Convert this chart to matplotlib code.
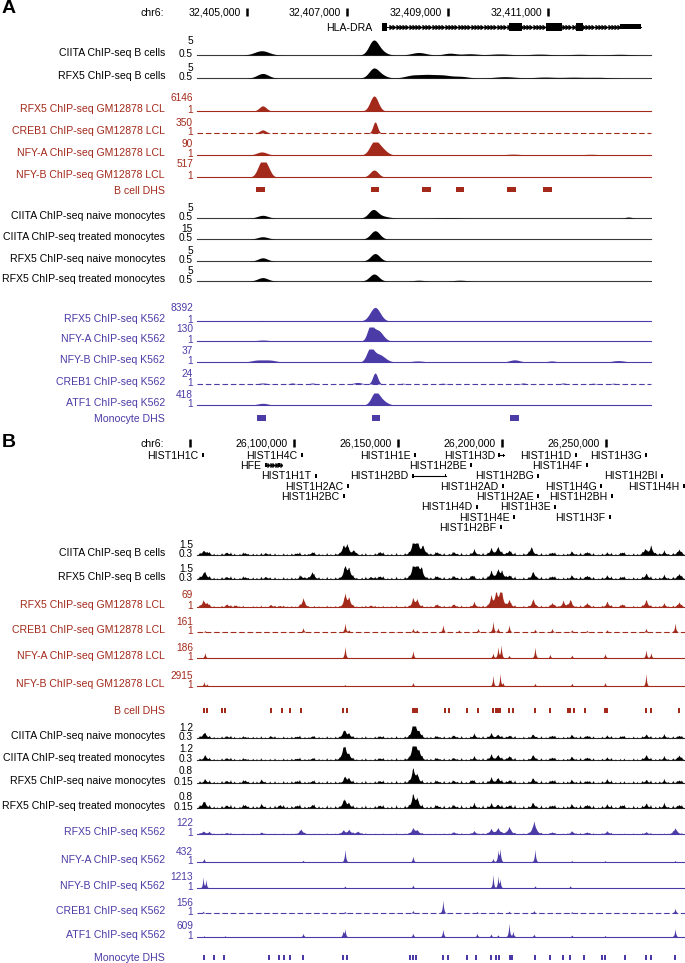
import numpy as np
import matplotlib
matplotlib.use("Agg")
import matplotlib.pyplot as plt
from matplotlib.patches import Rectangle

plt.rcParams['font.family'] = ['Liberation Sans', 'DejaVu Sans']

# ====================== DATA ======================
TRACK_NAMES = ['CIITA ChIP-seq B cells', 'RFX5 ChIP-seq B cells',
               'RFX5 ChIP-seq GM12878 LCL', 'CREB1 ChIP-seq GM12878 LCL',
               'NFY-A ChIP-seq GM12878 LCL', 'NFY-B ChIP-seq GM12878 LCL',
               'CIITA ChIP-seq naive monocytes', 'CIITA ChIP-seq treated monocytes',
               'RFX5 ChIP-seq naive monocytes', 'RFX5 ChIP-seq treated monocytes',
               'RFX5 ChIP-seq K562', 'NFY-A ChIP-seq K562', 'NFY-B ChIP-seq K562',
               'CREB1 ChIP-seq K562', 'ATF1 ChIP-seq K562']
TRACK_GROUP = ['k', 'k', 'r', 'r', 'r', 'r', 'k', 'k', 'k', 'k', 'b', 'b', 'b', 'b', 'b']
DASHED = [False, False, False, True, False, False, False, False, False, False,
          False, False, False, True, False]
DHS_NAMES = ['B cell DHS', 'Monocyte DHS']
DHS_GROUP = ['r', 'b']

# ---- Panel A (kb on chr6) ----
A_CHROM = 'chr6:'
A_XLIM = (32404.0, 32413.05)
A_TICKS = [32405, 32407, 32409, 32411]
A_TICK_LABELS = ['32,405,000', '32,407,000', '32,409,000', '32,411,000']
A_GENE = 'HLA-DRA'
A_EXON_START = [32407.69, 32410.22, 32410.96, 32411.55, 32412.43]
A_EXON_END = [32407.79, 32410.48, 32411.27, 32411.69, 32412.85]
A_MAX = [5, 5, 6146, 350, 90, 517, 5, 15, 5, 5, 8392, 130, 37, 24, 418]
A_MIN = [0.5, 0.5, 1, 1, 1, 1, 0.5, 0.5, 0.5, 0.5, 1, 1, 1, 1, 1]
A_MAX_LABEL = ['5', '5', '6146', '350', '90', '517', '5', '15', '5', '5',
               '8392', '130', '37', '24', '418']
A_MIN_LABEL = ['0.5', '0.5', '1', '1', '1', '1', '0.5', '0.5', '0.5', '0.5',
               '1', '1', '1', '1', '1']
A_POS = [
    [32405.29, 32407.51, 32407.61, 32408.42, 32409.04, 32409.44, 32410.04, 32410.83, 32411.63, 32412.43],
    [32405.31, 32407.51, 32407.62, 32408.30, 32408.60, 32408.90, 32409.25, 32410.14, 32410.93, 32411.50, 32412.00],
    [32405.31, 32407.53],
    [32405.31, 32407.55],
    [32405.29, 32407.53, 32407.68, 32404.30, 32409.60, 32410.30, 32411.85, 32412.50],
    [32405.29, 32405.40, 32407.53, 32410.30],
    [32405.31, 32407.51, 32407.70, 32412.60, 32409.00],
    [32405.31, 32407.55],
    [32405.31, 32407.55],
    [32405.31, 32407.53, 32408.42, 32409.24],
    [32405.31, 32407.55],
    [32405.31, 32407.45, 32407.60, 32409.52, 32410.30, 32410.93, 32411.80],
    [32405.20, 32405.45, 32407.45, 32407.62, 32408.40, 32410.33, 32411.07, 32412.40],
    [32405.31, 32407.20, 32407.55, 32405.90, 32406.30, 32408.10, 32408.90, 32410.50, 32411.30, 32411.90, 32412.30],
    [32405.31, 32407.55, 32407.68],
]
A_VAL = [
    [1.7, 3.6, 2.0, 1.2, 1.0, 0.85, 0.8, 0.75, 0.7, 0.7],
    [2.2, 3.2, 2.0, 1.5, 1.6, 1.5, 1.1, 1.0, 0.85, 0.8, 0.75],
    [2100, 6146],
    [100, 350],
    [22, 85, 40, 4, 4, 7, 6, 3],
    [500, 250, 240, 10],
    [1.6, 3.8, 1.2, 0.9, 0.65],
    [3.8, 12.5],
    [1.7, 3.3],
    [2.2, 4.0, 0.9, 0.9],
    [300, 7600],
    [10, 112, 100, 5, 5, 5, 3],
    [6, 6, 33, 22, 4, 7, 4, 5],
    [3, 4, 22, 3, 3, 2.5, 2.5, 3, 3, 2.5, 2.5],
    [60, 390, 150],
]
A_WID = [
    [0.14, 0.09, 0.12, 0.14, 0.12, 0.15, 0.2, 0.2, 0.2, 0.2],
    [0.11, 0.09, 0.12, 0.15, 0.15, 0.15, 0.15, 0.2, 0.2, 0.2, 0.2],
    [0.07, 0.08],
    [0.06, 0.045],
    [0.1, 0.09, 0.1, 0.1, 0.15, 0.15, 0.15, 0.1],
    [0.08, 0.07, 0.08, 0.05],
    [0.1, 0.09, 0.12, 0.06, 0.2],
    [0.1, 0.09],
    [0.09, 0.09],
    [0.1, 0.09, 0.1, 0.12],
    [0.1, 0.1],
    [0.12, 0.06, 0.1, 0.1, 0.1, 0.12, 0.1],
    [0.12, 0.12, 0.07, 0.12, 0.12, 0.1, 0.08, 0.12],
    [0.08, 0.08, 0.05, 0.05, 0.05, 0.05, 0.05, 0.05, 0.05, 0.05, 0.05],
    [0.1, 0.08, 0.1],
]
A_DHS_BCELL = [32405.27, 32407.55, 32408.58, 32409.24, 32410.27, 32410.99]
A_DHS_MONO = [32405.29, 32407.57, 32410.33]
A_DHS_WIDTH_KB = 0.17

# ---- Panel B (kb on chr6) ----
B_CHROM = 'chr6:'
B_XLIM = (26053.4, 26288.2)
B_TICKS = [26050, 26100, 26150, 26200, 26250]
B_TICK_LABELS = ['', '26,100,000', '26,150,000', '26,200,000', '26,250,000']
B_GENES = ['HIST1H1C', 'HIST1H4C', 'HIST1H1E', 'HIST1H3D', 'HIST1H1D', 'HIST1H3G',
           'HFE', 'HIST1H2BE', 'HIST1H4F',
           'HIST1H1T', 'HIST1H2BD', 'HIST1H2BG', 'HIST1H2BI',
           'HIST1H2AC', 'HIST1H2AD', 'HIST1H4G', 'HIST1H4H',
           'HIST1H2BC', 'HIST1H2AE', 'HIST1H2BH',
           'HIST1H4D', 'HIST1H3E',
           'HIST1H4E', 'HIST1H3F',
           'HIST1H2BF']
B_GENE_START = [26055.8, 26103.4, 26157.8, 26198.4, 26235.3, 26268.9,
                26086.1, 26184.7, 26240.6,
                26110.2, 26156.8, 26217.0, 26276.6,
                26125.5, 26200.1, 26247.3, 26287.2,
                26123.6, 26217.0, 26252.6,
                26187.6, 26225.2,
                26205.4, 26251.6,
                26199.2]
B_GENE_END = [26056.7, 26104.4, 26158.8, 26201.0, 26236.2, 26269.9,
              26093.3, 26185.7, 26241.5,
              26111.1, 26173.2, 26217.9, 26277.6,
              26126.5, 26201.1, 26248.3, 26288.2,
              26124.6, 26217.9, 26253.5,
              26188.6, 26226.1,
              26206.4, 26252.6,
              26200.1]
B_GENE_ROW = [0, 0, 0, 0, 0, 0, 1, 1, 1, 2, 2, 2, 2, 3, 3, 3, 3, 4, 4, 4, 5, 5, 6, 6, 7]
B_MAX = [1.5, 1.5, 69, 161, 186, 2915, 1.2, 1.2, 0.8, 0.8, 122, 432, 1213, 156, 609]
B_MIN = [0.3, 0.3, 1, 1, 1, 1, 0.3, 0.3, 0.15, 0.15, 1, 1, 1, 1, 1]
B_MAX_LABEL = ['1.5', '1.5', '69', '161', '186', '2915', '1.2', '1.2', '0.8', '0.8',
               '122', '432', '1213', '156', '609']
B_MIN_LABEL = ['0.3', '0.3', '1', '1', '1', '1', '0.3', '0.3', '0.15', '0.15',
               '1', '1', '1', '1', '1']
B_POS = [
    [26056.3, 26058.2, 26067.8, 26076.5, 26086.6, 26101.5, 26108.7, 26123.6, 26125.5, 26128.9, 26141.4, 26157.3, 26159.2, 26162.1, 26168.9, 26177.0, 26186.7, 26194.8, 26198.2, 26203.5, 26214.1, 26224.2, 26233.8, 26241.0, 26250.7, 26257.9, 26268.9, 26271.8, 26278.1, 26285.3],
    [26056.3, 26057.2, 26067.8, 26076.5, 26086.6, 26103.4, 26108.7, 26124.6, 26126.5, 26137.1, 26141.4, 26157.3, 26159.2, 26161.2, 26168.9, 26177.0, 26185.7, 26194.8, 26198.2, 26200.1, 26203.5, 26215.1, 26224.2, 26233.8, 26241.0, 26250.7, 26257.9, 26269.4, 26278.1, 26285.3],
    [26056.3, 26058.2, 26067.8, 26072.1, 26089.0, 26093.3, 26104.4, 26124.6, 26126.5, 26137.1, 26157.3, 26159.2, 26168.9, 26177.0, 26186.7, 26194.8, 26197.2, 26199.2, 26200.1, 26203.5, 26215.1, 26224.2, 26229.5, 26232.9, 26241.0, 26250.7, 26257.9, 26269.4, 26278.1, 26285.3],
    [26057.2, 26104.4, 26124.6, 26126.5, 26157.3, 26159.2, 26171.7, 26179.4, 26188.6, 26195.8, 26198.2, 26203.5, 26216.0, 26224.2, 26233.8, 26241.0, 26250.7, 26269.4, 26283.4],
    [26057.2, 26124.6, 26157.3, 26195.8, 26198.2, 26199.7, 26203.5, 26216.0, 26223.2, 26233.8, 26249.7, 26269.4, 26271.8],
    [26056.7, 26058.2, 26124.6, 26157.3, 26195.8, 26199.2, 26200.6, 26216.0, 26233.8, 26249.7, 26269.4],
    [26056.3, 26057.2, 26067.8, 26076.5, 26089.0, 26101.5, 26108.7, 26123.6, 26124.6, 26126.5, 26141.4, 26157.3, 26158.3, 26160.2, 26168.9, 26177.0, 26186.7, 26194.8, 26198.2, 26203.5, 26215.1, 26224.2, 26233.8, 26241.0, 26250.7, 26257.9, 26269.4, 26278.1, 26285.3],
    [26057.2, 26067.8, 26076.5, 26101.5, 26108.7, 26123.6, 26124.6, 26126.5, 26141.4, 26157.3, 26158.3, 26160.2, 26168.9, 26177.0, 26186.7, 26194.8, 26198.2, 26203.5, 26215.1, 26224.2, 26233.8, 26241.0, 26250.7, 26269.4, 26278.1, 26285.3],
    [26057.2, 26067.8, 26076.5, 26084.6, 26101.5, 26108.7, 26124.6, 26126.5, 26141.4, 26157.3, 26159.2, 26168.9, 26177.0, 26185.7, 26194.8, 26198.2, 26203.5, 26215.1, 26224.2, 26233.8, 26241.0, 26250.7, 26269.4, 26278.1, 26285.3],
    [26056.3, 26057.2, 26067.8, 26076.5, 26084.6, 26093.3, 26101.5, 26108.7, 26123.6, 26124.6, 26126.5, 26141.4, 26157.3, 26159.2, 26168.9, 26177.0, 26186.7, 26194.8, 26198.2, 26203.5, 26215.1, 26224.2, 26233.8, 26241.0, 26250.7, 26257.9, 26269.4, 26278.1, 26285.3],
    [26056.3, 26059.1, 26067.8, 26084.6, 26103.4, 26123.6, 26126.5, 26130.8, 26157.3, 26159.2, 26177.0, 26186.7, 26194.8, 26198.2, 26203.5, 26215.5, 26224.2, 26233.8, 26241.0, 26250.7, 26269.4, 26283.4],
    [26056.7, 26104.4, 26124.6, 26157.3, 26195.8, 26198.2, 26199.2, 26216.0, 26233.8, 26249.7, 26283.4],
    [26056.3, 26057.7, 26124.6, 26157.3, 26195.8, 26198.2, 26199.2, 26216.0, 26232.9],
    [26056.3, 26124.6, 26157.3, 26171.7, 26188.1, 26198.2, 26203.5, 26215.5, 26233.8, 26283.4],
    [26056.7, 26066.8, 26104.4, 26123.6, 26124.6, 26157.3, 26171.7, 26188.1, 26194.8, 26198.2, 26203.5, 26205.4, 26215.5, 26233.8, 26249.7, 26283.4],
]
B_VAL = [
    [0.70, 0.57, 0.57, 0.53, 0.50, 0.50, 0.60, 1.03, 1.30, 0.70, 0.63, 1.55, 1.70, 1.13, 0.60, 0.60, 0.77, 0.90, 1.13, 0.77, 1.10, 0.57, 0.60, 0.63, 0.50, 0.57, 0.90, 1.10, 0.63, 0.90],
    [0.63, 0.80, 0.50, 0.50, 0.50, 0.57, 0.97, 1.47, 1.13, 0.50, 0.57, 1.47, 1.70, 1.13, 0.57, 0.57, 0.63, 0.97, 1.13, 0.80, 0.63, 0.97, 0.57, 0.57, 0.63, 0.57, 0.50, 0.80, 0.57, 0.80],
    [31.6, 18, 14.6, 9.5, 11, 7.8, 43.5, 60.5, 38, 9.5, 38, 35, 14.6, 14.6, 21, 48.6, 69, 60, 38, 35, 38, 21, 26.5, 35, 21, 24.8, 14.6, 35, 14.6, 24.8],
    [19, 56, 115, 28, 47, 28, 92, 28, 47, 138, 56, 92, 38, 47, 28, 24, 28, 47, 115],
    [80, 170, 107, 75, 160, 186, 43, 160, 54, 43, 65, 118, 75],
    [1000, 500, 333, 830, 2500, 2915, 800, 665, 665, 830, 2900],
    [0.50, 0.61, 0.45, 0.40, 0.43, 0.43, 0.45, 0.61, 0.71, 0.56, 0.45, 1.28, 1.02, 0.69, 0.45, 0.50, 0.56, 0.61, 0.56, 0.50, 0.56, 0.50, 0.50, 0.50, 0.45, 0.45, 0.56, 0.50, 0.50],
    [0.62, 0.43, 0.39, 0.41, 0.43, 0.86, 0.93, 0.57, 0.43, 1.20, 1.30, 0.75, 0.43, 0.43, 0.48, 0.62, 0.64, 0.57, 0.62, 0.48, 0.48, 0.48, 0.43, 0.62, 0.48, 0.62],
    [0.31, 0.25, 0.28, 0.25, 0.25, 0.25, 0.41, 0.31, 0.25, 0.77, 0.48, 0.25, 0.25, 0.28, 0.35, 0.38, 0.28, 0.35, 0.28, 0.25, 0.25, 0.28, 0.28, 0.25, 0.28],
    [0.38, 0.31, 0.28, 0.31, 0.28, 0.31, 0.28, 0.31, 0.35, 0.41, 0.31, 0.28, 0.77, 0.56, 0.28, 0.28, 0.31, 0.31, 0.31, 0.28, 0.38, 0.28, 0.28, 0.31, 0.28, 0.28, 0.35, 0.31, 0.31],
    [25, 16, 13, 13, 43, 31, 37, 25, 49, 31, 19, 25, 43, 55, 67, 115, 19, 25, 19, 25, 19, 55],
    [124, 62, 432, 198, 124, 370, 432, 432, 50, 50, 50],
    [970, 760, 175, 278, 1213, 1040, 760, 210, 210],
    [24, 20, 32, 156, 20, 16, 24, 32, 16, 60],
    [50, 50, 170, 237, 340, 170, 340, 170, 136, 100, 609, 255, 136, 85, 68, 372],
]
B_PEAK_WIDTH_KB = [1.1, 1.1, 0.9, 0.4, 0.4, 0.35, 1.0, 1.0, 1.0, 1.0, 1.1, 0.4, 0.35, 0.4, 0.4]
# small background spikes (kb), their relative heights, and the level per track
B_BG_POS = [26054.6, 26056.9, 26059.3, 26061.4, 26063.0, 26065.2, 26067.1, 26069.5, 26071.3,
            26073.8, 26075.4, 26077.9, 26080.2, 26082.0, 26084.1, 26086.0, 26088.4, 26090.7,
            26092.5, 26094.9, 26096.6, 26098.8, 26100.5, 26102.7, 26105.1, 26106.8, 26109.6,
            26111.9, 26113.7, 26115.8, 26117.6, 26119.9, 26121.8, 26124.0, 26126.2, 26128.3,
            26130.1, 26132.6, 26134.4, 26136.5, 26138.9, 26140.6, 26142.8, 26145.0, 26146.9,
            26149.2, 26151.0, 26153.3, 26155.2, 26157.0, 26159.8, 26161.6, 26163.9, 26165.7,
            26168.0, 26170.2, 26172.1, 26174.5, 26176.3, 26178.6, 26180.5, 26182.7, 26184.9,
            26186.6, 26189.0, 26190.8, 26193.1, 26195.0, 26197.6, 26199.9, 26202.0, 26204.3,
            26206.2, 26208.5, 26210.4, 26212.8, 26214.6, 26216.7, 26218.9, 26221.1, 26223.0,
            26225.4, 26227.2, 26229.6, 26231.5, 26233.4, 26235.8, 26237.7, 26239.9, 26242.2,
            26244.0, 26246.4, 26248.2, 26250.5, 26252.6, 26254.7, 26256.9, 26258.8, 26261.0,
            26263.3, 26265.1, 26267.5, 26269.7, 26271.6, 26273.9, 26275.8, 26278.0, 26280.1,
            26282.3, 26284.2, 26286.5]
B_BG_REL = [1.0, 0.6, 1.3, 0.8, 0.5, 1.1, 0.7, 1.4, 0.9, 0.6, 1.2, 0.5, 1.0, 0.8, 1.3, 0.6,
            0.9, 1.1, 0.5, 1.2, 0.7, 1.0, 0.6, 1.4, 0.8, 0.5, 1.1, 0.9, 0.6, 1.3, 0.7, 1.0,
            0.5, 1.2, 0.8, 1.1, 0.6, 0.9, 1.3, 0.5, 1.0, 0.7, 1.2, 0.6, 0.9, 1.4, 0.5, 1.1,
            0.8, 1.0, 0.6, 1.3, 0.7, 0.9, 1.1, 0.5, 1.2, 0.8, 1.0, 0.6, 1.4, 0.7, 0.9, 1.1,
            0.5, 1.3, 0.8, 1.0, 0.6, 1.2, 0.7, 0.9, 1.4, 0.5, 1.1, 0.8, 1.0, 0.6, 1.3, 0.7,
            0.9, 1.2, 0.5, 1.0, 0.8, 1.1, 0.6, 1.4, 0.7, 0.9, 1.2, 0.5, 1.0, 0.8, 1.3, 0.6,
            0.9, 1.1, 0.5, 1.2, 0.7, 1.0, 0.6, 1.3, 0.8, 0.9, 1.1, 0.5, 1.2, 0.7, 1.0]
B_BG_VAL = [0.50, 0.50, 8, 5, 6, 50, 0.44, 0.42, 0.25, 0.27, 9, 10, 25, 5, 18]
B_DHS_BCELL = [26056.7, 26058.2, 26065.4, 26066.8, 26089.0, 26094.3, 26098.1, 26103.4, 26123.6,
               26125.5, 26157.3, 26158.3, 26159.2, 26172.7, 26174.6, 26183.3, 26188.6, 26195.8,
               26197.2, 26198.2, 26199.2, 26203.5, 26205.4, 26216.0, 26223.2, 26231.9, 26232.9,
               26234.8, 26240.1, 26249.7, 26250.7, 26269.4, 26271.8, 26285.3]
B_DHS_MONO = [26056.7, 26061.5, 26066.4, 26088.0, 26092.8, 26095.2, 26098.1, 26104.4, 26123.6,
              26125.5, 26155.9, 26157.3, 26158.8, 26171.7, 26174.1, 26183.3, 26187.6, 26194.8,
              26197.2, 26198.7, 26204.0, 26205.0, 26216.0, 26223.2, 26229.5, 26232.9, 26239.6,
              26248.3, 26249.7, 26259.3, 26269.4, 26271.8, 26283.4]
B_DHS_WIDTH_KB = 0.7

# ====================== LAYOUT / STYLE ======================
W, H = 685, 963
FS = 7.6
FS_SCALE = 7.3
COLORS = {'k': '#000000', 'r': '#a3291b', 'b': '#4b3ba6'}
BASELINE_COLORS = {'k': '#3a3a3a', 'r': '#a3291b', 'b': '#4b3ba6'}
NAME_RIGHT = 165
SCALE_RIGHT = 193
X0 = 197
A_X1 = 651
B_X1 = 685
A_BASE = [55, 78, 111, 133, 155, 177, 218, 239, 261, 281, 321, 341, 362, 384, 405]
A_MAXLAB = [40, 67, 97, 123, 143, 163, 208, 230, 250, 273, 307, 328, 350, 373, 394]
A_DHS_Y = [190, 418]
B_BASE = [555, 579, 607, 632, 658, 686, 738, 760, 783, 808, 834, 862, 888, 913, 937]
B_MAXLAB = [545, 568, 594, 621, 647, 675, 728, 748, 770, 796, 822, 851, 876, 902, 925]
B_DHS_Y = [710, 957]
B_HEADER_Y = 443
B_ROW0 = 455
B_ROW_STEP = 10.3
MIN_SEP = 9.0
CAP = 3.8  # half cap height (px) for baseline alignment

fig = plt.figure(figsize=(W / 100, H / 100), dpi=100)


def rect(x0, y0, x1, y1):
    return [x0 / W, 1 - y1 / H, (x1 - x0) / W, (y1 - y0) / H]


def ftext(x, y, s, **kw):
    kw.setdefault('fontsize', FS)
    fig.text(x / W, 1 - (y + CAP) / H, s, va='baseline', **kw)


def gauss_signal(xg, pos, val, wid, lo):
    y = np.zeros_like(xg)
    for p, v, w in zip(pos, val, wid):
        y += (v - lo) * np.exp(-0.5 * ((xg - p) / w) ** 2)
    return lo + y


def spike_signal(xg, pos, val, w, lo):
    y = np.zeros_like(xg)
    for p, v in zip(pos, val):
        y += (v - lo) * np.exp(-np.abs(xg - p) / w)
    return lo + y


def draw_track(x1, xlim, base, top, lo, hi, xg, yv, grp, dashed):
    ax = fig.add_axes(rect(X0, top, x1, base))
    ax.set_xlim(*xlim)
    ax.set_ylim(lo, hi)
    ax.axis('off')
    ax.fill_between(xg, lo, np.clip(yv, lo, hi), color=COLORS[grp], lw=0, zorder=2)
    ax.plot(xlim, [lo, lo], color=BASELINE_COLORS[grp], lw=0.8,
            ls=(0, (5, 2.5)) if dashed else '-', clip_on=False, zorder=1)


def draw_labels(base, maxlab, name, mx, mn, grp):
    c = COLORS[grp]
    ymin = base - 1.5
    ymax = min(maxlab, ymin - MIN_SEP)
    ftext(NAME_RIGHT, base - 2.5, name, ha='right', color=c)
    ftext(SCALE_RIGHT, ymax, mx, ha='right', color=c, fontsize=FS_SCALE)
    ftext(SCALE_RIGHT, ymin, mn, ha='right', color=c, fontsize=FS_SCALE)


def draw_dhs(x1, xlim, y, centers, width, grp, label):
    ax = fig.add_axes(rect(X0, y - 2.5, x1, y + 2.5))
    ax.set_xlim(*xlim)
    ax.set_ylim(0, 1)
    ax.axis('off')
    for c in centers:
        ax.add_patch(Rectangle((c - width / 2, 0), width, 1, color=COLORS[grp], lw=0))
    ftext(NAME_RIGHT, y, label, ha='right', color=COLORS[grp])


# ====================== PANEL A ======================
ftext(2, 9, 'A', fontsize=14, fontweight='bold', ha='left')
ftext(164, 12, A_CHROM, ha='right')
axh = fig.add_axes(rect(X0, 0, A_X1, 36))
axh.set_xlim(*A_XLIM)
axh.set_ylim(36, 0)
axh.axis('off')
for t, lab in zip(A_TICKS, A_TICK_LABELS):
    axh.plot([t, t], [8, 16], color='k', lw=1.8, solid_capstyle='butt')
    axh.annotate(lab, xy=(t, 12 + CAP), xytext=(-4.5, 0), textcoords='offset points',
                 ha='right', va='baseline', fontsize=FS)
axh.plot([A_EXON_START[0], A_EXON_END[-1]], [27, 27], color='k', lw=0.7)
chev = np.arange(A_EXON_END[0] + 0.04, A_EXON_START[-1], 0.065)
axh.plot(chev, np.full_like(chev, 27), ls='none', marker=9, ms=2.6, color='k')
for i, (s, e) in enumerate(zip(A_EXON_START, A_EXON_END)):
    h = 5 if i == len(A_EXON_START) - 1 else 8
    axh.add_patch(Rectangle((s, 27 - h / 2), e - s, h, color='k', lw=0))
axh.annotate(A_GENE, xy=(A_EXON_START[0], 27 + CAP), xytext=(-7, 0), textcoords='offset points',
             ha='right', va='baseline', fontsize=FS)

xa = np.linspace(A_XLIM[0], A_XLIM[1], 3000)
for i in range(15):
    grp = TRACK_GROUP[i]
    yv = gauss_signal(xa, A_POS[i], A_VAL[i], A_WID[i], A_MIN[i])
    draw_track(A_X1, A_XLIM, A_BASE[i], A_MAXLAB[i] - 1, A_MIN[i], A_MAX[i], xa, yv, grp, DASHED[i])
    draw_labels(A_BASE[i], A_MAXLAB[i], TRACK_NAMES[i], A_MAX_LABEL[i], A_MIN_LABEL[i], grp)
    if i == 5:
        draw_dhs(A_X1, A_XLIM, A_DHS_Y[0], A_DHS_BCELL, A_DHS_WIDTH_KB, DHS_GROUP[0], DHS_NAMES[0])
draw_dhs(A_X1, A_XLIM, A_DHS_Y[1], A_DHS_MONO, A_DHS_WIDTH_KB, DHS_GROUP[1], DHS_NAMES[1])

# ====================== PANEL B ======================
ftext(2, B_HEADER_Y, 'B', fontsize=14, fontweight='bold', ha='left')
ftext(164, B_HEADER_Y, B_CHROM, ha='right')
gy0, gy1 = B_HEADER_Y - 10, 535
axg = fig.add_axes(rect(X0, gy0, B_X1, gy1))
axg.set_xlim(*B_XLIM)
axg.set_ylim(gy1, gy0)
axg.axis('off')
for t, lab in zip(B_TICKS, B_TICK_LABELS):
    axg.plot([t, t], [B_HEADER_Y - 4, B_HEADER_Y + 4], color='k', lw=1.8,
             solid_capstyle='butt', clip_on=False)
    if lab:
        axg.annotate(lab, xy=(t, B_HEADER_Y + CAP), xytext=(-4.5, 0), textcoords='offset points',
                     ha='right', va='baseline', fontsize=FS)
for name, s, e, r in zip(B_GENES, B_GENE_START, B_GENE_END, B_GENE_ROW):
    y = B_ROW0 + r * B_ROW_STEP
    if e - s > 2.5:
        axg.plot([s, e], [y, y], color='k', lw=0.8, clip_on=False)
        if name == 'HFE':
            cx = np.arange(s + 1.0, e, 1.2)
            axg.plot(cx, np.full_like(cx, y), ls='none', marker=9, ms=2.2, color='k')
            axg.add_patch(Rectangle((s, y - 2), 0.8, 4, color='k', lw=0))
            axg.add_patch(Rectangle((e - 0.8, y - 2), 0.8, 4, color='k', lw=0))
        else:
            axg.add_patch(Rectangle((s, y - 2), 1.0, 4, color='k', lw=0))
            axg.add_patch(Rectangle((e - 0.6, y - 1.5), 0.6, 3, color='k', lw=0))
    else:
        axg.add_patch(Rectangle((s, y - 2), max(e - s, 0.9), 4, color='k', lw=0, clip_on=False))
    axg.annotate(name, xy=(s, y + CAP), xytext=(-2.5, 0), textcoords='offset points',
                 ha='right', va='baseline', fontsize=FS)

xb = np.linspace(B_XLIM[0], B_XLIM[1], 9000)
for i in range(15):
    grp = TRACK_GROUP[i]
    lo, hi = B_MIN[i], B_MAX[i]
    yv = spike_signal(xb, B_POS[i], B_VAL[i], B_PEAK_WIDTH_KB[i], lo)
    bg_vals = [lo + r * (B_BG_VAL[i] - lo) for r in B_BG_REL]
    yv = yv + (spike_signal(xb, B_BG_POS, bg_vals, 0.3, lo) - lo)
    draw_track(B_X1, B_XLIM, B_BASE[i], B_MAXLAB[i] - 2, lo, hi, xb, yv, grp, DASHED[i])
    draw_labels(B_BASE[i], B_MAXLAB[i], TRACK_NAMES[i], B_MAX_LABEL[i], B_MIN_LABEL[i], grp)
    if i == 5:
        draw_dhs(B_X1, B_XLIM, B_DHS_Y[0], B_DHS_BCELL, B_DHS_WIDTH_KB, DHS_GROUP[0], DHS_NAMES[0])
draw_dhs(B_X1, B_XLIM, B_DHS_Y[1], B_DHS_MONO, B_DHS_WIDTH_KB, DHS_GROUP[1], DHS_NAMES[1])

fig.savefig('out.png', dpi=100)
